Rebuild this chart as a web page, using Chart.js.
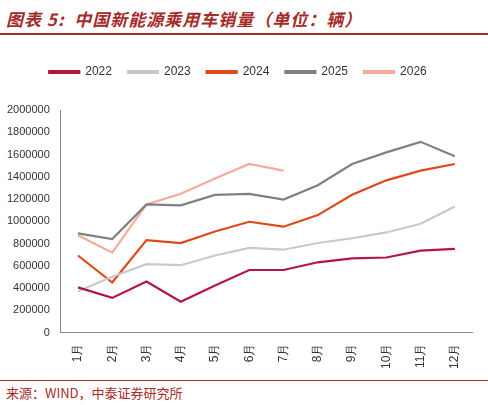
<!DOCTYPE html>
<html><head><meta charset="utf-8">
<script src="https://cdn.jsdelivr.net/npm/chart.js@4"></script>
<style>
body{margin:0;width:488px;height:405px;background:#fff;font-family:"Noto Sans CJK SC",sans-serif;overflow:hidden}
#title{position:absolute;left:6px;top:6px;font-size:17px;font-weight:bold;font-style:italic;color:#a52a2a;letter-spacing:1px}
#tl{position:absolute;left:0;top:33px;width:488px;height:2px;background:#a52a2a}
#wrap{position:absolute;left:0;top:50px;width:478px;height:322px}
#bl{position:absolute;left:0;top:380px;width:488px;height:1px;background:#a52a2a}
#src{position:absolute;left:6px;top:383px;font-size:13px;color:#a52a2a}
</style></head><body>
<div id="title">图表 5:&nbsp; 中国新能源乘用车销量（单位：辆）</div>
<div id="tl"></div>
<div id="wrap"><canvas id="c"></canvas></div>
<div id="bl"></div>
<div id="src">来源：WIND，中泰证券研究所</div>
<script>
const months = ['1月','2月','3月','4月','5月','6月','7月','8月','9月','10月','11月','12月'];
const s2022 = [407000,312000,459000,277000,424000,563000,563000,632000,667000,675000,736000,753000];
const s2023 = [372000,502000,615000,606000,693000,762000,745000,805000,848000,900000,978000,1134000];
const s2024 = [693000,450000,831000,805000,909000,996000,952000,1056000,1238000,1368000,1455000,1515000];
const s2025 = [892000,840000,1152000,1143000,1238000,1247000,1195000,1325000,1515000,1619000,1714000,1584000];
const s2026 = [874000,719000,1152000,1247000,1385000,1515000,1455000];

const mk = (label, data, color) => ({label, data, borderColor: color, backgroundColor: color, borderWidth: 2.2, pointRadius: 0, tension: 0});
// push plot area down below legend
const legendGap = {id: 'legendGap', beforeInit(chart) {
  const fit = chart.legend.fit;
  chart.legend.fit = function() { fit.bind(chart.legend)(); this.height += 22; };
}};
new Chart(document.getElementById('c'), {
  type: 'line',
  data: {labels: months, datasets: [
    mk('2022', s2022, '#b3163f'),
    mk('2023', s2023, '#c9c9c9'),
    mk('2024', s2024, '#e0481a'),
    mk('2025', s2025, '#808080'),
    mk('2026', s2026, '#f5aa9c')
  ]},
  options: {
    responsive: true, maintainAspectRatio: false, animation: false,
    layout: {padding: {left: 4, right: 6, top: 0}},
    plugins: {legend: {position: 'top', labels: {boxWidth: 30, boxHeight: 2, font: {size: 12}, color: '#333', padding: 16}}},
    scales: {
      x: {grid: {display: false}, border: {color: '#888'}, offset: true,
          ticks: {maxRotation: 90, minRotation: 90, color: '#333', font: {size: 12}}},
      y: {min: 0, max: 2000000, grid: {display: false}, border: {color: '#888'},
          ticks: {stepSize: 200000, color: '#333', font: {size: 11}, callback: v => String(v)}}
    }
  },
  plugins: [legendGap]
});
</script>
</body></html>
